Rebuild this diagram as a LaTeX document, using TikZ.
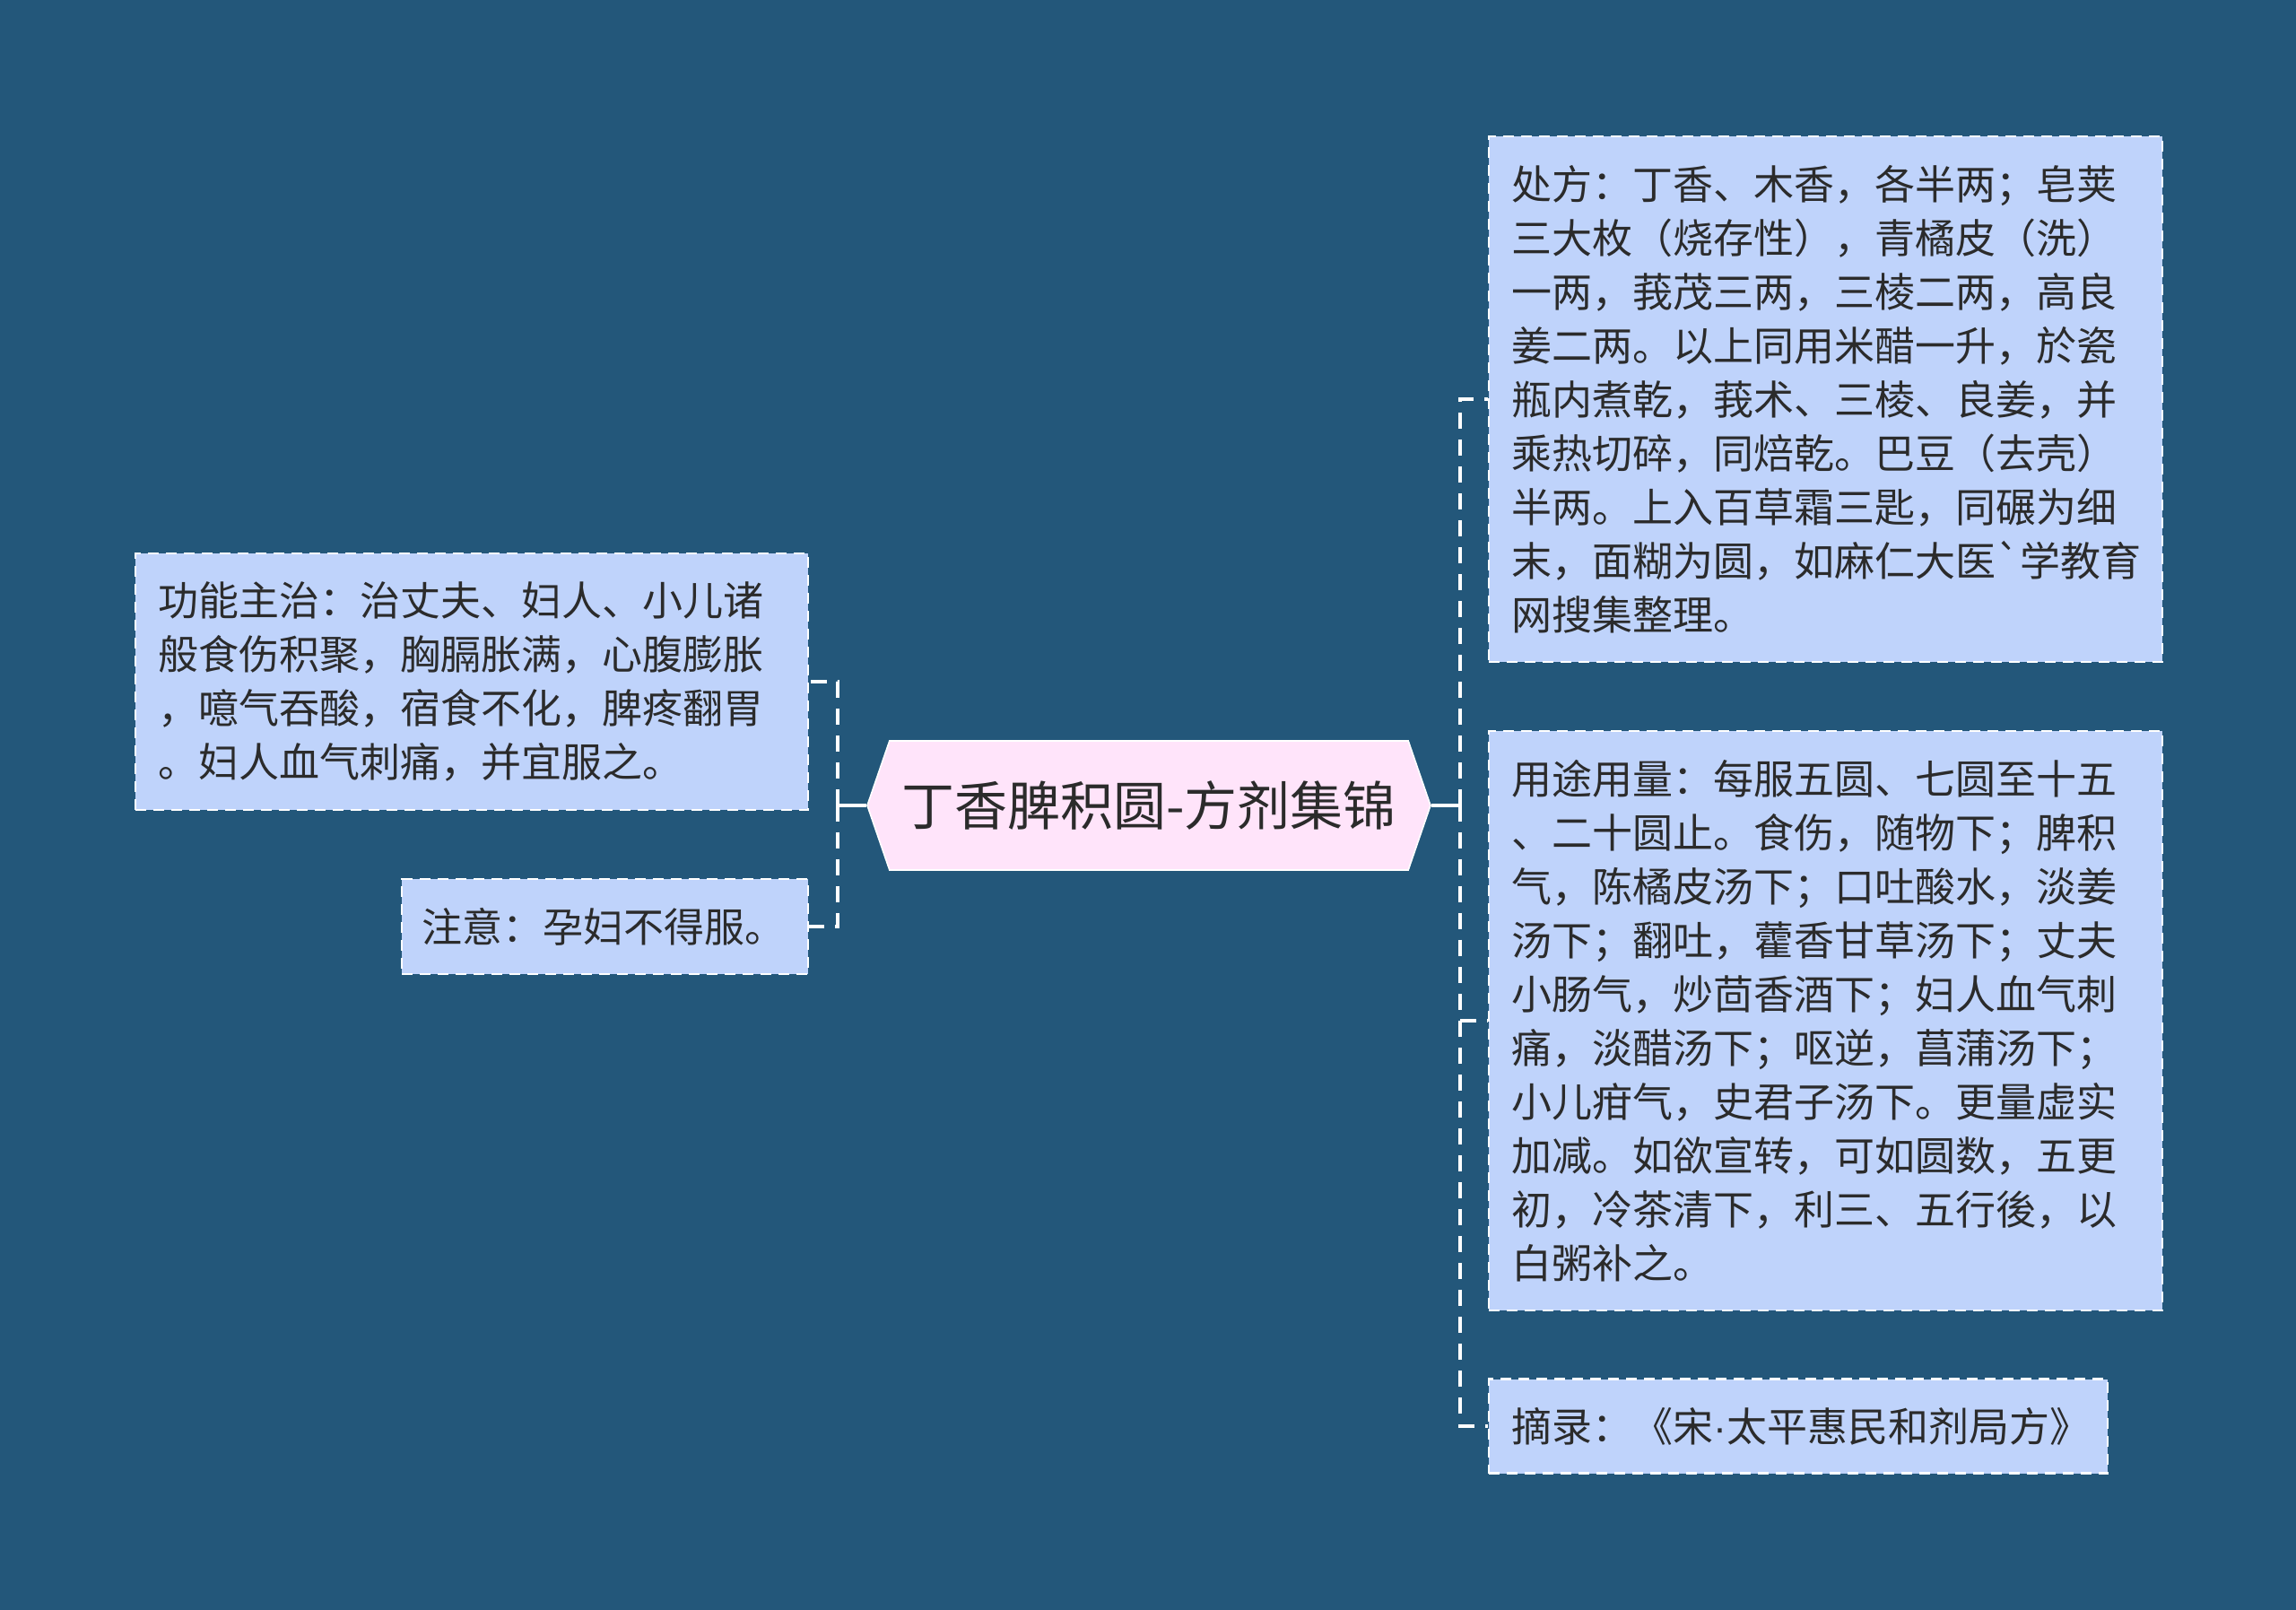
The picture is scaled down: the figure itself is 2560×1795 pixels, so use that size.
\documentclass[tikz,border=0pt]{standalone}
\usepackage{fontspec}
\newfontfamily\cjkfont{Noto Sans CJK SC}
\newfontfamily\dotfont{Liberation Sans}
\usepackage{tikz}
\usetikzlibrary{positioning}
\usetikzlibrary{shapes.symbols}
\definecolor{bgblue}{HTML}{23577A}
\definecolor{leafblue}{HTML}{BFD3FB}
\definecolor{rootpink}{HTML}{FFE4FA}
\definecolor{inkgray}{HTML}{2B2B2B}

\begin{document}
\begin{tikzpicture}[x=0.25pt,y=-0.25pt,
  root/.style={shape=signal,signal to=west and east,signal pointer angle=142,
    fill=rootpink,draw=white,line width=0.4pt,text=inkgray,inner sep=0pt,
    minimum width=157pt,minimum height=36pt,
    font=\cjkfont\fontsize{14.75pt}{18pt}\selectfont},
  leaf/.style={draw=white,fill=leafblue,dash pattern=on 3pt off 2pt,line width=0.6pt,
    text=inkgray,align=left,anchor=west,inner xsep=6.25pt,inner ysep=0pt,
    font=\cjkfont\fontsize{11.25pt}{15pt}\selectfont},
  stem/.style={draw=white,line width=1pt},
  link/.style={stem,dash pattern=on 4.5pt off 3pt}]

  \fill[bgblue] (0,0) rectangle (2560,1795);
  \useasboundingbox (0,0) rectangle (2560,1795);

  \node[root] (title) at (1281,898) {丁香脾积圆-方剂集锦};

  \node[leaf,text width=175pt,minimum height=71.5pt] (gongneng) at (150,760)
    {功能主治：治丈夫、妇人、小儿诸\\
     般食伤积聚，胸膈胀满，心腹膨胀\\
     ，噫气吞酸，宿食不化，脾疼翻胃\\
     。妇人血气刺痛，并宜服之。};
  \node[leaf,text width=102pt,inner xsep=5.6pt,minimum height=26.5pt] (zhuyi) at (447,1033)
    {注意：孕妇不得服。};

  \node[leaf,text width=175.25pt,minimum height=146.5pt] (chufang) at (1659,445)
    {处方：丁香、木香，各半两；皂荚\\
     三大枚（烧存性），青橘皮（洗）\\
     一两，莪茂三两，三棱二两，高良\\
     姜二两。以上同用米醋一升，於瓷\\
     瓶内煮乾，莪术、三棱、良姜，并\\
     乘热切碎，同焙乾。巴豆（去壳）\\
     半两。上入百草霜三匙，同碾为细\\
     末，面糊为圆，如麻仁大医`学教育\\
     网搜集整理。};
  \node[leaf,text width=175.25pt,minimum height=161.5pt] (yongtu) at (1659,1138)
    {用途用量：每服五圆、七圆至十五\\
     、二十圆止。食伤，随物下；脾积\\
     气，陈橘皮汤下；口吐酸水，淡姜\\
     汤下；翻吐，藿香甘草汤下；丈夫\\
     小肠气，炒茴香酒下；妇人血气刺\\
     痛，淡醋汤下；呕逆，菖蒲汤下；\\
     小儿疳气，史君子汤下。更量虚实\\
     加减。如欲宣转，可如圆数，五更\\
     初，冷茶清下，利三、五行後，以\\
     白粥补之。};
  \node[leaf,text width=160pt,minimum height=26.25pt] (zhailu) at (1659,1590)
    {摘录：《宋{\dotfont·}太平惠民和剂局方》};

  \coordinate (ltrunk) at (934,898);
  \coordinate (rtrunk) at (1628,898);
  \draw[stem] (title.west) -- (ltrunk);
  \draw[stem] (title.east) -- (rtrunk);
  \draw[link] (ltrunk) |- (gongneng.east);
  \draw[link] (ltrunk) |- (zhuyi.east);
  \draw[link] (rtrunk) |- (chufang.west);
  \draw[link] (rtrunk) |- (yongtu.west);
  \draw[link] (rtrunk) |- (zhailu.west);

\end{tikzpicture}
\end{document}
